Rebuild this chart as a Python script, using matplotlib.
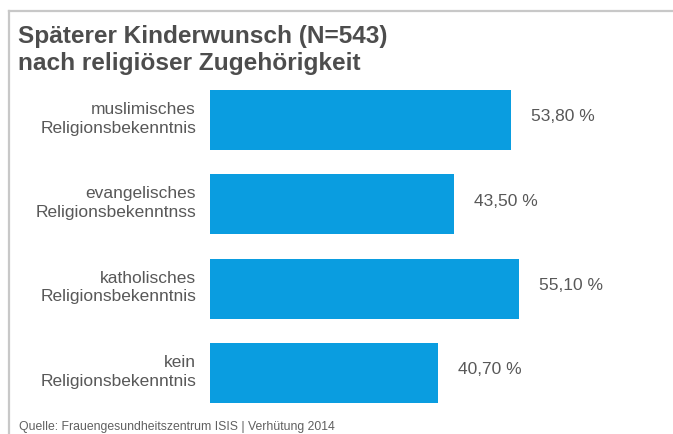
import matplotlib
matplotlib.use("Agg")
import matplotlib.pyplot as plt
from matplotlib.lines import Line2D

plt.rcParams['font.family'] = ['Liberation Sans', 'DejaVu Sans']

categories = [
    "muslimisches\nReligionsbekenntnis",
    "evangelisches\nReligionsbekenntnss",
    "katholisches\nReligionsbekenntnis",
    "kein\nReligionsbekenntnis",
]
values = [53.80, 43.50, 55.10, 40.70]
value_labels = ["53,80 %", "43,50 %", "55,10 %", "40,70 %"]

title = "Späterer Kinderwunsch (N=543)\nnach religiöser Zugehörigkeit"
source = "Quelle: Frauengesundheitszentrum ISIS | Verhütung 2014"

W, H = 673, 435
fig = plt.figure(figsize=(W / 100, H / 100), dpi=100)
fig.patch.set_facecolor("white")

# axes placed in pixel terms: zero line at x=210, 5.6 px per percent
ax_left, ax_width = 210, 80 * 5.6
ax_top, ax_height = 78.8, 4 * 84.33
ax = fig.add_axes([ax_left / W, (H - ax_top - ax_height) / H, ax_width / W, ax_height / H])

ypos = list(range(len(categories)))
ax.barh(ypos, values, height=0.712, color="#0a9de0", edgecolor="none")
ax.set_xlim(0, 80)
ax.set_ylim(len(categories) - 0.5, -0.5)
ax.axis("off")

text_col = "#585858"
for y, cat, v, lab in zip(ypos, categories, values, value_labels):
    ax.annotate(cat, xy=(0, y), xytext=(-14, 2), textcoords="offset pixels",
                ha="right", va="center", fontsize=12.5, color=text_col,
                linespacing=1.3)
    ax.annotate(lab, xy=(v, y), xytext=(20, 4), textcoords="offset pixels",
                ha="left", va="center", fontsize=12.5, color=text_col)

fig.text(18 / W, 1 - 50 / H, title, ha="left", va="center", fontsize=17.6,
         fontweight="bold", color="#4d4d4d", linespacing=1.17)
fig.text(19 / W, 1 - 427 / H, source, ha="left", va="center", fontsize=8.8,
         color="#606060")

# thin grey frame along top and left
fig.add_artist(Line2D([8.5 / W, 1], [1 - 12 / H, 1 - 12 / H], color="#c8c8c8",
                      lw=1.6, transform=fig.transFigure))
fig.add_artist(Line2D([8.5 / W, 8.5 / W], [1 - 12 / H, 0], color="#c8c8c8",
                      lw=1.6, transform=fig.transFigure))

fig.savefig("out.png", dpi=100, facecolor="white")
